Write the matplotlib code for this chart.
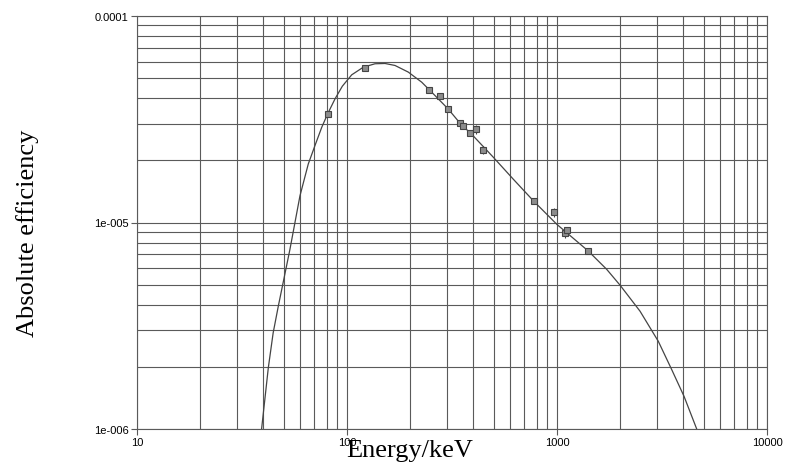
import matplotlib
matplotlib.use("Agg")
import matplotlib.pyplot as plt
from matplotlib.ticker import LogLocator, FixedLocator, FixedFormatter, NullFormatter

# Measured calibration points (energy keV, absolute efficiency)
energy = [80.9, 121.8, 244.7, 276.4, 302.9, 344.3, 356.0, 383.8, 411.1, 444.0,
          778.9, 964.1, 1085.8, 1112.1, 1408.0]
efficiency = [3.36e-5, 5.61e-5, 4.39e-5, 4.09e-5, 3.55e-5, 3.03e-5, 2.92e-5, 2.72e-5,
              2.83e-5, 2.24e-5, 1.27e-5, 1.12e-5, 8.85e-6, 9.15e-6, 7.28e-6]
eff_err = [0, 0, 0, 0, 0, 0, 0, 0, 1.5e-6, 1.0e-6, 0, 6e-7, 4e-7, 0, 0]

# Fitted efficiency curve
curve_energy = [39.2, 42.2, 44.5, 47.1, 50.0, 53.5, 59.7, 65.4, 70.4, 75.8, 80.9, 87.7,
                95.0, 105.3, 119.6, 135.9, 151.7, 169.3, 195.8, 226.9, 262.4, 302.9,
                345.0, 400.0, 497.5, 619.5, 774.0, 997.0, 1408.0, 1725.0, 2000.0,
                2485.0, 3036.0, 3517.0, 4026.0, 4627.0]
curve_eff = [1.0e-6, 1.98e-6, 2.92e-6, 3.94e-6, 5.3e-6, 7.42e-6, 1.346e-5, 1.92e-5,
             2.36e-5, 2.89e-5, 3.36e-5, 3.97e-5, 4.57e-5, 5.19e-5, 5.65e-5, 5.87e-5,
             5.89e-5, 5.76e-5, 5.35e-5, 4.78e-5, 4.12e-5, 3.55e-5, 3.03e-5, 2.62e-5,
             2.07e-5, 1.62e-5, 1.27e-5, 9.81e-6, 7.28e-6, 5.93e-6, 4.96e-6, 3.72e-6,
             2.66e-6, 1.94e-6, 1.44e-6, 1.0e-6]

xticks = [10, 100, 1000, 10000]
xtick_labels = ["10", "100", "1000", "10000"]
yticks = [1e-6, 1e-5, 1e-4]
ytick_labels = ["1e-006", "1e-005", "0.0001"]

fig = plt.figure(figsize=(7.86, 4.64), dpi=100)
ax = fig.add_axes([137/786, 1-430/464, (767-137)/786, (430-17)/464])
ax.set_xscale("log")
ax.set_yscale("log")
ax.set_xlim(10, 10000)
ax.set_ylim(1e-6, 1e-4)

gc = "#5a5a5a"
ax.xaxis.set_minor_locator(LogLocator(base=10, subs=range(2, 10), numticks=20))
ax.yaxis.set_minor_locator(LogLocator(base=10, subs=range(2, 10), numticks=20))
ax.xaxis.set_minor_formatter(NullFormatter())
ax.yaxis.set_minor_formatter(NullFormatter())
ax.grid(True, which="both", color=gc, linewidth=0.8)
ax.tick_params(which="minor", length=0)
ax.tick_params(which="major", length=4, width=0.8, color=gc, direction="out",
               labelsize=8, pad=2)

ax.xaxis.set_major_locator(FixedLocator(xticks))
ax.xaxis.set_major_formatter(FixedFormatter(xtick_labels))
ax.yaxis.set_major_locator(FixedLocator(yticks))
ax.yaxis.set_major_formatter(FixedFormatter(ytick_labels))
for lab in ax.get_xticklabels() + ax.get_yticklabels():
    lab.set_family("Liberation Sans")

for s in ax.spines.values():
    s.set_color(gc)
    s.set_linewidth(0.8)

ax.plot(curve_energy, curve_eff, color="#444444", linewidth=0.9, zorder=3,
        solid_joinstyle="round")
ax.errorbar(energy, efficiency, yerr=eff_err, fmt="s", markersize=5,
            markerfacecolor="#8c8c8c", markeredgecolor="#444444", markeredgewidth=0.8,
            ecolor="#444444", elinewidth=0.8, capsize=0, zorder=4)

fig.text(410/786, 1-451/464, "Energy/keV", family="Liberation Serif", fontsize=19,
         ha="center", va="center")
fig.text(28/786, 1-233/464, "Absolute efficiency", family="Liberation Serif", fontsize=19,
         ha="center", va="center", rotation=90)

fig.savefig("out.png", dpi=100)
